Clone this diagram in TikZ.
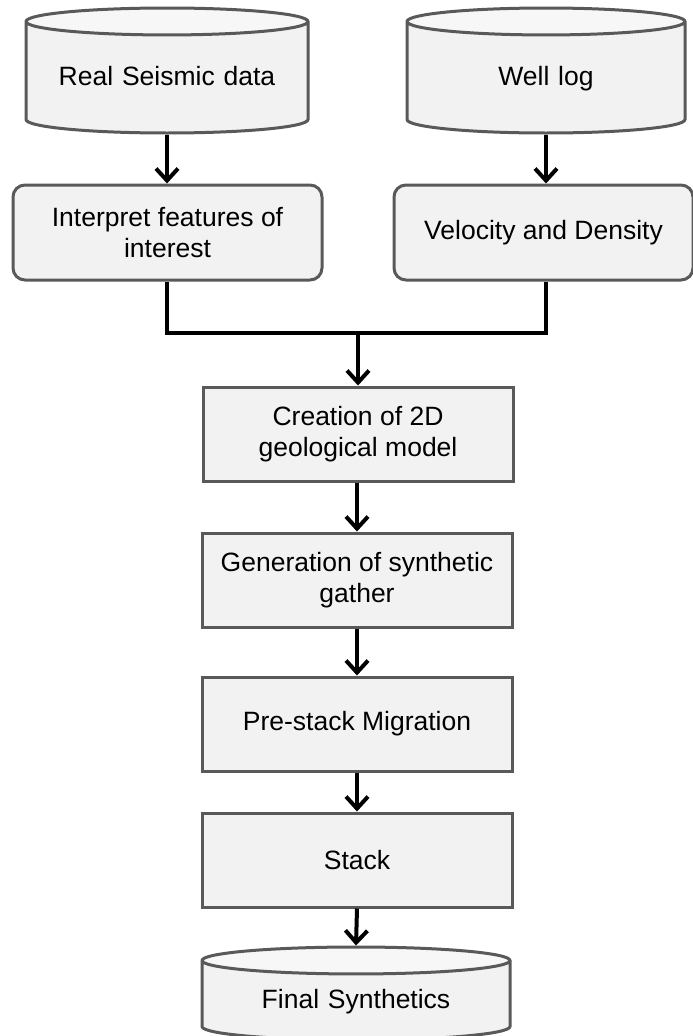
\documentclass[tikz,border=0pt]{standalone}
\usepackage{fontspec}
\setmainfont{Liberation Sans}
\usepackage{xcolor}
\usetikzlibrary{shapes.geometric,arrows.meta,calc}
\definecolor{boxfill}{HTML}{F2F2F2}
\definecolor{topfill}{HTML}{F7F7F7}
\definecolor{boxline}{HTML}{595959}
\tikzset{
    tsText/.style = {
        text=black,
        font=\fontsize{26.5}{31}\selectfont,
        align=center
    },
    tsBox/.style = {
        rectangle,
        tsText,
        draw=boxline,
        fill=boxfill,
        line width=3pt,
        minimum width=310pt,
        minimum height=94pt
    },
    tsRound/.style = {
        tsBox,
        rounded corners=12pt
    },
    tsDisk/.style = {
        cylinder,
        shape border rotate=90,
        anchor=shape center,
        aspect=0.105,
        tsText,
        text width=250pt,
        text height=19pt,
        text depth=6pt,
        draw=boxline,
        line width=3pt,
        cylinder uses custom fill,
        cylinder body fill=boxfill,
        cylinder end fill=topfill,
        minimum height=125pt
    },
    tsArrow/.style = {
        -{Straight Barb[length=12pt,width=22pt]},
        line width=4pt,
        black
    },
    tsLine/.style = {
        line width=4pt,
        black
    }
}
\begin{document}
\begin{tikzpicture}[x=1pt, y=-1pt]
        \useasboundingbox (0,0) rectangle (693,1036);

        % sources
        \node[tsDisk, minimum width=282pt] (seismic) at (167,70.5) {Real Seismic data};
        \node[tsDisk, minimum width=278pt] (welllog) at (546,70.5) {Well log};

        \node[tsRound, minimum width=309pt, minimum height=95pt] (interp) at (167.5,232.5) {Interpret features of\\interest};
        \node[tsRound, minimum width=299pt, minimum height=95pt] (veldens) at (543.5,232.5) {Velocity and Density};

        % main column
        \node[tsBox] (model) at (358,434) {Creation of 2D\\geological model};
        \node[tsBox] (gather) at (357,580) {Generation of synthetic\\gather};
        \node[tsBox] (premig) at (357,724) {Pre-stack Migration};
        \node[tsBox] (stack) at (357,860) {Stack};
        \node[tsDisk, minimum width=308pt, minimum height=93pt] (final) at (356,993.5) {Final Synthetics};

        \coordinate (join) at (358,333);

        % connectors
        \draw[tsArrow] (seismic.south) -- (interp.north -| seismic.south);
        \draw[tsArrow] (welllog.south) -- (veldens.north -| welllog.south);
        \draw[tsLine] (interp.south -| seismic.south) |- (join) -| (veldens.south -| welllog.south);
        \draw[tsArrow] (join) -- (model.north -| join);
        \draw[tsArrow] (model.south -| gather.north) -- (gather.north);
        \draw[tsArrow] (gather.south) -- (premig.north);
        \draw[tsArrow] (premig.south) -- (stack.north);
        \draw[tsArrow] (stack.south) -- (final.north);

\end{tikzpicture}
\end{document}
